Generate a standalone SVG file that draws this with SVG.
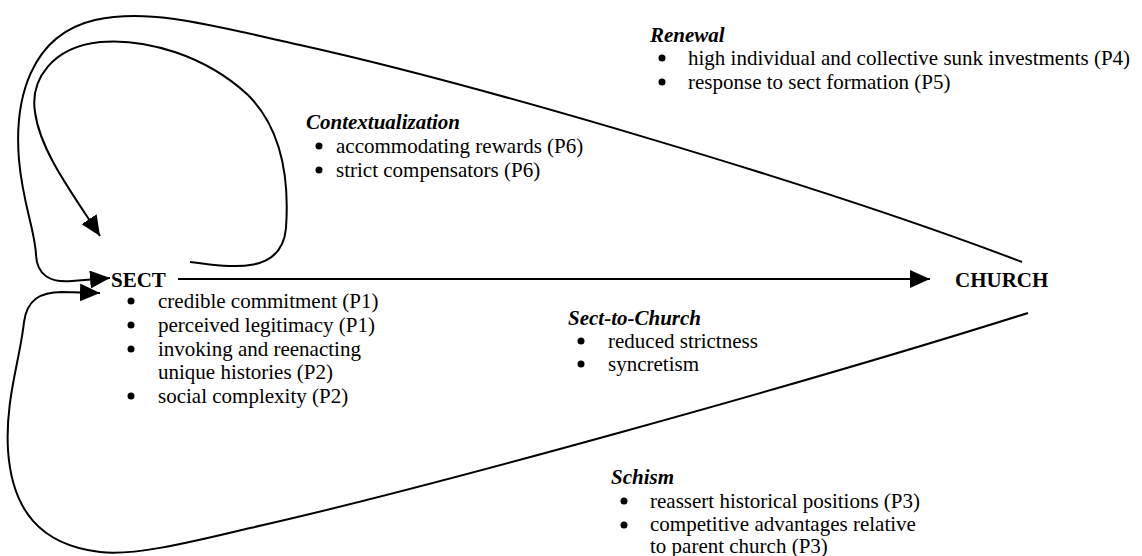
<svg xmlns="http://www.w3.org/2000/svg" width="1142" height="556" viewBox="0 0 1142 556">
<style>
text{font-family:'Liberation Serif',serif;font-size:21px;fill:#000}
.t{font-weight:bold;font-style:italic}
.n{font-weight:bold}
.c{fill:none;stroke:#000;stroke-width:2}
</style>
<defs>
<marker id="ah" markerUnits="userSpaceOnUse" markerWidth="22" markerHeight="18" refX="20" refY="9" orient="auto"><path d="M0,0 L20,9 L0,18 z" fill="#000"/></marker>
</defs>
<rect width="1142" height="556" fill="#fff"/>
<g id="connectors">
<path class="c" d="M178,279 L930,279" marker-end="url(#ah)"/>
<path class="c" d="M1022,262 C820,185 480,85 300,45 C210,25 150,8 95,20 C30,35 14,100 19,160 C23,205 35,230 36,255 C37,275 50,283 72,281 L110,278" marker-end="url(#ah)"/>
<path class="c" d="M190,262 C235,268 282,274 286,228 C290,170 278,125 248,95 C205,55 145,38 100,42 C52,47 30,80 35,112 C40,150 70,190 100,236" marker-end="url(#ah)"/>
<path class="c" d="M1028,313 C800,385 420,490 250,528 C180,545 130,556 100,552 C40,545 12,510 8,450 C5,400 20,360 24,322 C27,300 40,292 62,292 L100,293" marker-end="url(#ah)"/>
</g>
<g id="sect">
<text class="n" x="111" y="287">SECT</text>
<circle cx="131" cy="301" r="3.5"/><text x="158" y="308">credible commitment (P1)</text>
<circle cx="131" cy="325" r="3.5"/><text x="158" y="332">perceived legitimacy (P1)</text>
<circle cx="131" cy="349" r="3.5"/><text x="158" y="356">invoking and reenacting</text>
<text x="158" y="379">unique histories (P2)</text>
<circle cx="131" cy="396" r="3.5"/><text x="158" y="403">social complexity (P2)</text>
</g>
<g id="church">
<text class="n" x="955" y="287">CHURCH</text>
</g>
<g id="renewal">
<text class="t" x="650" y="42">Renewal</text>
<circle cx="662" cy="58" r="3.5"/><text x="688" y="65">high individual and collective sunk investments (P4)</text>
<circle cx="662" cy="82" r="3.5"/><text x="688" y="89">response to sect formation (P5)</text>
</g>
<g id="contextualization">
<text class="t" x="306" y="129">Contextualization</text>
<circle cx="319" cy="146" r="3.5"/><text x="336" y="153">accommodating rewards (P6)</text>
<circle cx="319" cy="170" r="3.5"/><text x="336" y="177">strict compensators (P6)</text>
</g>
<g id="sect-to-church">
<text class="t" x="568" y="325">Sect-to-Church</text>
<circle cx="581" cy="341" r="3.5"/><text x="608" y="348">reduced strictness</text>
<circle cx="581" cy="364" r="3.5"/><text x="608" y="371">syncretism</text>
</g>
<g id="schism">
<text class="t" x="611" y="484">Schism</text>
<circle cx="624" cy="501" r="3.5"/><text x="650" y="508">reassert historical positions (P3)</text>
<circle cx="624" cy="525" r="3.5"/><text x="650" y="531">competitive advantages relative</text>
<text x="650" y="553">to parent church (P3)</text>
</g>
</svg>
